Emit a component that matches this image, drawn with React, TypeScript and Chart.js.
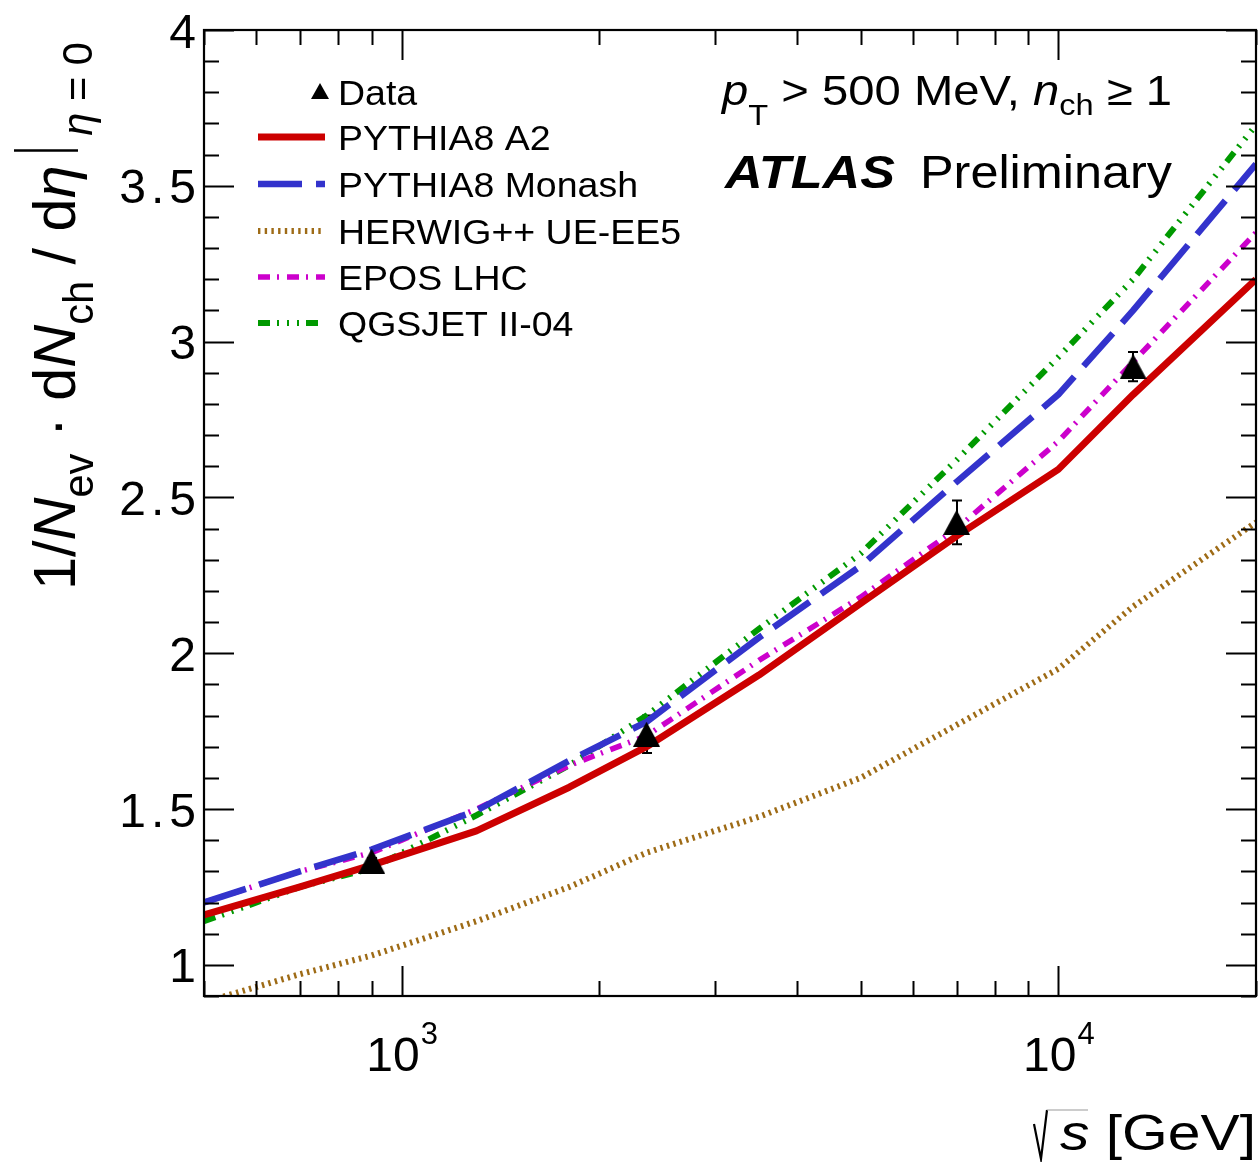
import React, { useEffect, useRef } from 'react';
import { Chart, registerables } from 'chart.js';

Chart.register(...registerables);

// ---- data ----
const energies = [500, 700, 900, 1300, 1800, 2360, 3500, 5000, 7000, 10000, 13000, 20000];
const pythiaA2 = [1.16, 1.25, 1.32, 1.43, 1.57, 1.70, 1.93, 2.16, 2.376, 2.59, 2.83, 3.20];
const pythiaMonash = [1.20, 1.30, 1.37, 1.495, 1.655, 1.78, 2.05, 2.28, 2.55, 2.83, 3.10, 3.57];
const herwigUE = [0.88, 0.97, 1.03, 1.14, 1.25, 1.36, 1.475, 1.60, 1.77, 1.95, 2.15, 2.42];
const eposLHC = [1.20, 1.30, 1.36, 1.50, 1.64, 1.735, 1.977, 2.18, 2.40, 2.68, 2.935, 3.35];
const qgsjet = [1.14, 1.25, 1.31, 1.48, 1.64, 1.80, 2.078, 2.32, 2.62, 2.95, 3.20, 3.695];

const dataEnergies = [900, 2360, 7000, 13000];
const dataValues = [1.333, 1.74, 2.42, 2.92];
const dataErrors = [0.01, 0.06, 0.07, 0.047];

const yTickValues = [1, 1.5, 2, 2.5, 3, 3.5, 4];
const yTickLabels = ['1', '1.5', '2', '2.5', '3', '3.5', '4'];
const xMajorTicks = [1000, 10000];
const xTickExponents = ['3', '4'];
const xMinorTicks = [500, 600, 700, 800, 900, 2000, 3000, 4000, 5000, 6000, 7000, 8000, 9000, 20000];

const FONT = '"Liberation Sans", Arial, Helvetica, sans-serif';

type Seg = { t: string; size: number; style?: string; weight?: string; dy?: number; bar?: boolean; gap?: number };

function fontOf(s: Seg) {
  return `${s.style || 'normal'} ${s.weight || 'normal'} ${s.size}px ${FONT}`;
}
function segW(ctx: CanvasRenderingContext2D, s: Seg) {
  ctx.font = fontOf(s);
  return (s.t ? ctx.measureText(s.t).width : 0) + (s.gap || 0);
}
function richWidth(ctx: CanvasRenderingContext2D, segs: Seg[]) {
  let w = 0;
  for (const s of segs) w += segW(ctx, s);
  return w;
}
function drawRich(ctx: CanvasRenderingContext2D, segs: Seg[], x: number, y: number, targetW?: number) {
  const w = richWidth(ctx, segs);
  const k = targetW ? targetW / w : 1;
  ctx.save();
  ctx.translate(x, y);
  ctx.scale(k, 1);
  let cx = 0;
  for (const s of segs) {
    ctx.font = fontOf(s);
    if (s.bar) {
      ctx.save();
      ctx.lineWidth = 2.5;
      ctx.strokeStyle = '#000';
      ctx.beginPath();
      const bx = cx + (s.gap || 0) / 2;
      ctx.moveTo(bx, 3);
      ctx.lineTo(bx, -61);
      ctx.stroke();
      ctx.restore();
    } else {
      ctx.fillText(s.t, cx, s.dy || 0);
    }
    cx += segW(ctx, s);
  }
  ctx.restore();
}

function makeTriangle(w: number, h: number) {
  const c = document.createElement('canvas');
  c.width = w;
  c.height = h;
  const g = c.getContext('2d')!;
  g.fillStyle = '#000';
  g.beginPath();
  g.moveTo(w / 2, 0);
  g.lineTo(w, h);
  g.lineTo(0, h);
  g.closePath();
  g.fill();
  return c;
}

const pts = (xs: number[], ys: number[]) => xs.map((x, i) => ({ x, y: ys[i] }));

const decorPlugin = {
  id: 'atlasDecor',
  beforeDatasetsDraw(chart: any) {
    const ctx: CanvasRenderingContext2D = chart.ctx;
    const xs = chart.scales.x;
    const ys = chart.scales.y;
    ctx.save();
    ctx.strokeStyle = '#000';
    ctx.lineWidth = 2;
    dataEnergies.forEach((e, i) => {
      const px = Math.round(xs.getPixelForValue(e));
      const y1 = ys.getPixelForValue(dataValues[i] - dataErrors[i]);
      const y2 = ys.getPixelForValue(dataValues[i] + dataErrors[i]);
      ctx.beginPath();
      ctx.moveTo(px, y1);
      ctx.lineTo(px, y2);
      ctx.moveTo(px - 5, y1);
      ctx.lineTo(px + 5, y1);
      ctx.moveTo(px - 5, y2);
      ctx.lineTo(px + 5, y2);
      ctx.stroke();
    });
    ctx.restore();
  },
  afterDraw(chart: any) {
    const ctx: CanvasRenderingContext2D = chart.ctx;
    const { left, right, top, bottom } = chart.chartArea;
    const xs = chart.scales.x;
    const ys = chart.scales.y;
    ctx.save();
    ctx.fillStyle = '#000';
    ctx.strokeStyle = '#000';

    // frame
    ctx.lineWidth = 2.2;
    ctx.setLineDash([]);
    ctx.strokeRect(left, top, right - left, bottom - top);

    // y ticks
    ctx.lineWidth = 2;
    ctx.beginPath();
    for (let i = 9; i <= 40; i++) {
      const v = i / 10;
      const py = Math.round(ys.getPixelForValue(v)) + 0.5;
      const len = i % 5 === 0 ? 30 : 15;
      ctx.moveTo(left, py);
      ctx.lineTo(left + len, py);
      ctx.moveTo(right, py);
      ctx.lineTo(right - len, py);
    }
    // x ticks
    const xt = [...xMajorTicks.map((v) => [v, 30]), ...xMinorTicks.map((v) => [v, 15])];
    for (const [v, len] of xt) {
      const px = Math.round(xs.getPixelForValue(v)) + 0.5;
      ctx.moveTo(px, bottom);
      ctx.lineTo(px, bottom - len);
      ctx.moveTo(px, top);
      ctx.lineTo(px, top + len);
    }
    ctx.stroke();

    // y tick labels
    ctx.textAlign = 'left';
    ctx.textBaseline = 'alphabetic';
    ctx.font = `48px ${FONT}`;
    (ctx as any).letterSpacing = '5px';
    yTickValues.forEach((v, i) => {
      const py = ys.getPixelForValue(v);
      const w = ctx.measureText(yTickLabels[i]).width - 5;
      ctx.fillText(yTickLabels[i], 196 - w, py + 17.5);
    });
    (ctx as any).letterSpacing = '0px';

    // x tick labels 10^n
    xMajorTicks.forEach((v, i) => {
      const px = xs.getPixelForValue(v);
      ctx.font = `48px ${FONT}`;
      const w1 = ctx.measureText('10').width;
      ctx.font = `31px ${FONT}`;
      const w2 = ctx.measureText(xTickExponents[i]).width;
      const x0 = px - (w1 + w2) / 2;
      ctx.font = `48px ${FONT}`;
      ctx.fillText('10', x0, 1071);
      ctx.font = `31px ${FONT}`;
      ctx.fillText(xTickExponents[i], x0 + w1 + 1, 1044);
    });

    // x axis title: sqrt(s) [GeV]
    const xTitle: Seg[] = [
      { t: 's', size: 50, style: 'italic' },
      { t: ' [GeV]', size: 50 },
    ];
    const xtW = 196;
    const xtX = 1256 - xtW;
    drawRich(ctx, xTitle, xtX, 1150, xtW);
    ctx.lineWidth = 2.2;
    ctx.beginPath();
    ctx.moveTo(xtX - 26, 1124);
    ctx.lineTo(xtX - 19, 1159);
    ctx.lineTo(xtX - 13, 1110);
    ctx.stroke();
    ctx.lineWidth = 1.2;
    ctx.strokeStyle = '#999';
    ctx.beginPath();
    ctx.moveTo(xtX - 13, 1110);
    ctx.lineTo(xtX + 28, 1110);
    ctx.stroke();
    ctx.strokeStyle = '#000';

    // y axis title (rotated)
    const S = 60;
    const sub = 42;
    const yTitle: Seg[] = [
      { t: '1/', size: S },
      { t: 'N', size: S, style: 'italic' },
      { t: 'ev', size: sub, dy: 18 },
      { t: ' \u00b7 d', size: S },
      { t: 'N', size: S, style: 'italic' },
      { t: 'ch', size: sub, dy: 18 },
      { t: ' / d', size: S },
      { t: '\u03b7', size: S, style: 'italic' },
      { t: '', size: S, bar: true, gap: 30 },
      { t: '\u03b7', size: sub, style: 'italic', dy: 17 },
      { t: ' = 0', size: sub, dy: 17 },
    ];
    ctx.save();
    ctx.translate(75, 590);
    ctx.rotate(-Math.PI / 2);
    drawRich(ctx, yTitle, 0, 0, 548);
    ctx.restore();

    // top-right labels
    const line1: Seg[] = [
      { t: 'p', size: 42, style: 'italic' },
      { t: 'T', size: 29, dy: 20 },
      { t: ' > 500 MeV, ', size: 42 },
      { t: 'n', size: 42, style: 'italic' },
      { t: 'ch', size: 29, dy: 10 },
      { t: ' \u2265 1', size: 42 },
    ];
    drawRich(ctx, line1, 722, 105, 450);
    drawRich(ctx, [{ t: 'ATLAS', size: 46, style: 'italic', weight: 'bold' }], 725, 188, 170);
    drawRich(ctx, [{ t: 'Preliminary', size: 46 }], 920, 188, 252);

    // legend
    const rows = [92, 137, 184, 231, 277, 323];
    const legK = 300 / richWidth(ctx, [{ t: 'PYTHIA8 Monash', size: 35 }]);
    chart.data.datasets.forEach((ds: any, i: number) => {
      const cy = rows[i];
      if (i === 0) {
        ctx.beginPath();
        ctx.moveTo(320, cy - 9);
        ctx.lineTo(329, cy + 7);
        ctx.lineTo(311, cy + 7);
        ctx.closePath();
        ctx.fill();
      } else {
        ctx.save();
        ctx.strokeStyle = ds.borderColor;
        ctx.lineWidth = ds.borderWidth;
        ctx.lineCap = 'butt';
        ctx.setLineDash(ds.borderDash || []);
        ctx.beginPath();
        ctx.moveTo(258, cy);
        ctx.lineTo(325, cy);
        ctx.stroke();
        ctx.restore();
      }
      ctx.font = `35px ${FONT}`;
      const w = ctx.measureText(ds.label).width * legK;
      drawRich(ctx, [{ t: ds.label, size: 35 }], 338, cy + 12.5, w);
    });

    ctx.restore();
  },
};

export default function App() {
  const ref = useRef<HTMLCanvasElement | null>(null);
  useEffect(() => {
    if (!ref.current) return;
    const tri = makeTriangle(27, 25);
    const line = (label: string, ys: number[], color: string, width: number, dash: number[]) => ({
      label,
      data: pts(energies, ys),
      borderColor: color,
      backgroundColor: color,
      borderWidth: width,
      borderDash: dash,
      borderCapStyle: 'butt',
      borderJoinStyle: 'round',
      pointRadius: 0,
      tension: 0,
      fill: false,
      clip: 0,
    });
    const chart = new Chart(ref.current, {
      type: 'line',
      data: {
        datasets: [
          {
            label: 'Data',
            data: pts(dataEnergies, dataValues),
            showLine: false,
            pointStyle: tri,
            pointRadius: 13,
            pointBackgroundColor: '#000',
            pointBorderColor: '#000',
            pointBorderWidth: 0,
            borderColor: '#000',
            backgroundColor: '#000',
          } as any,
          line('PYTHIA8 A2', pythiaA2, '#cc0000', 7, []),
          line('PYTHIA8 Monash', pythiaMonash, '#3333cc', 6.5, [44, 14]),
          line('HERWIG++ UE-EE5', herwigUE, '#9e6b16', 6, [2.4, 4.3]),
          line('EPOS LHC', eposLHC, '#cc00cc', 5.5, [12, 7, 2, 8]),
          line('QGSJET II-04', qgsjet, '#009900', 6, [12, 7, 2, 8, 2, 8, 2, 7]),
        ] as any,
      },
      options: {
        responsive: false,
        animation: false,
        devicePixelRatio: 1,
        layout: { autoPadding: false, padding: { left: 204, right: 4, top: 30, bottom: 166 } },
        plugins: { legend: { display: false }, tooltip: { enabled: false } },
        scales: {
          x: { type: 'logarithmic', min: 500, max: 20000, display: false },
          y: { type: 'linear', min: 0.9, max: 4, display: false },
        },
      } as any,
      plugins: [decorPlugin as any],
    });
    return () => chart.destroy();
  }, []);
  return (
    <div style={{ position: 'absolute', left: 0, top: 0, width: 1260, height: 1162, background: '#fff' }}>
      <canvas ref={ref} width={1260} height={1162} style={{ display: 'block' }} />
    </div>
  );
}
